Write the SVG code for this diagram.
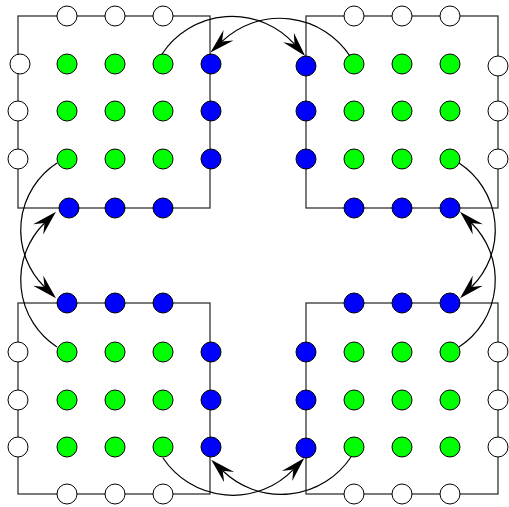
<svg xmlns="http://www.w3.org/2000/svg" width="509" height="507" viewBox="0 0 509 507">
<style>
.frame{fill:none;stroke:#333;stroke-width:1.3}
.w{fill:#fff;stroke:#000;stroke-width:1}
.g{fill:#00ff00;stroke:#000;stroke-width:1}
.b{fill:#0000ff;stroke:#000;stroke-width:1}
.c{fill:none;stroke:#000;stroke-width:1.2;marker-end:url(#ah)}
</style>
<defs>
<marker id="ah" markerUnits="userSpaceOnUse" markerWidth="26" markerHeight="16" refX="9" refY="8" orient="auto" overflow="visible">
<path d="M25,8 L0,0.8 L9,8 L0,15.2 Z" fill="#000"/>
</marker>
</defs>
<rect width="509" height="507" fill="#fff"/>
<g id="frames">
<rect class="frame" x="18" y="16" width="192" height="192"/>
<rect class="frame" x="306" y="16" width="192" height="192"/>
<rect class="frame" x="18" y="303" width="192" height="191"/>
<rect class="frame" x="306" y="303" width="192" height="191"/>
</g>
<g id="tl-nodes">
<g id="tl-w1"><circle class="w" cx="67" cy="16" r="10"/></g>
<g id="tl-w2"><circle class="w" cx="115" cy="16" r="10"/></g>
<g id="tl-w3"><circle class="w" cx="163" cy="16" r="10"/></g>
<g id="tl-w4"><circle class="w" cx="20" cy="64" r="10"/></g>
<g id="tl-w5"><circle class="w" cx="18" cy="111" r="10"/></g>
<g id="tl-w6"><circle class="w" cx="18" cy="159" r="10"/></g>
<g id="tl-g11"><circle class="g" cx="67" cy="64" r="10"/></g>
<g id="tl-g12"><circle class="g" cx="115" cy="64" r="10"/></g>
<g id="tl-g13"><circle class="g" cx="163" cy="64" r="10"/></g>
<g id="tl-g21"><circle class="g" cx="67" cy="111" r="10"/></g>
<g id="tl-g22"><circle class="g" cx="115" cy="111" r="10"/></g>
<g id="tl-g23"><circle class="g" cx="163" cy="111" r="10"/></g>
<g id="tl-g31"><circle class="g" cx="67" cy="159" r="10"/></g>
<g id="tl-g32"><circle class="g" cx="115" cy="159" r="10"/></g>
<g id="tl-g33"><circle class="g" cx="163" cy="159" r="10"/></g>
<g id="tl-b1"><circle class="b" cx="211" cy="64" r="10"/></g>
<g id="tl-b2"><circle class="b" cx="211" cy="111" r="10"/></g>
<g id="tl-b3"><circle class="b" cx="211" cy="159" r="10"/></g>
<g id="tl-b4"><circle class="b" cx="69" cy="208" r="10"/></g>
<g id="tl-b5"><circle class="b" cx="115" cy="208" r="10"/></g>
<g id="tl-b6"><circle class="b" cx="163" cy="208" r="10"/></g>
</g>
<g id="tr-nodes">
<g id="tr-w1"><circle class="w" cx="354" cy="16" r="10"/></g>
<g id="tr-w2"><circle class="w" cx="402" cy="16" r="10"/></g>
<g id="tr-w3"><circle class="w" cx="450" cy="16" r="10"/></g>
<g id="tr-w4"><circle class="w" cx="498" cy="66" r="10"/></g>
<g id="tr-w5"><circle class="w" cx="498" cy="111" r="10"/></g>
<g id="tr-w6"><circle class="w" cx="498" cy="159" r="10"/></g>
<g id="tr-g11"><circle class="g" cx="354" cy="64" r="10"/></g>
<g id="tr-g12"><circle class="g" cx="402" cy="64" r="10"/></g>
<g id="tr-g13"><circle class="g" cx="450" cy="64" r="10"/></g>
<g id="tr-g21"><circle class="g" cx="354" cy="111" r="10"/></g>
<g id="tr-g22"><circle class="g" cx="402" cy="111" r="10"/></g>
<g id="tr-g23"><circle class="g" cx="450" cy="111" r="10"/></g>
<g id="tr-g31"><circle class="g" cx="354" cy="159" r="10"/></g>
<g id="tr-g32"><circle class="g" cx="402" cy="159" r="10"/></g>
<g id="tr-g33"><circle class="g" cx="450" cy="159" r="10"/></g>
<g id="tr-b1"><circle class="b" cx="306" cy="66" r="10"/></g>
<g id="tr-b2"><circle class="b" cx="306" cy="111" r="10"/></g>
<g id="tr-b3"><circle class="b" cx="306" cy="159" r="10"/></g>
<g id="tr-b4"><circle class="b" cx="354" cy="208" r="10"/></g>
<g id="tr-b5"><circle class="b" cx="402" cy="208" r="10"/></g>
<g id="tr-b6"><circle class="b" cx="450" cy="208" r="10"/></g>
</g>
<g id="bl-nodes">
<g id="bl-w1"><circle class="w" cx="18" cy="352" r="10"/></g>
<g id="bl-w2"><circle class="w" cx="18" cy="400" r="10"/></g>
<g id="bl-w3"><circle class="w" cx="18" cy="447" r="10"/></g>
<g id="bl-w4"><circle class="w" cx="67" cy="494" r="10"/></g>
<g id="bl-w5"><circle class="w" cx="115" cy="494" r="10"/></g>
<g id="bl-w6"><circle class="w" cx="163" cy="494" r="10"/></g>
<g id="bl-g11"><circle class="g" cx="67" cy="352" r="10"/></g>
<g id="bl-g12"><circle class="g" cx="115" cy="352" r="10"/></g>
<g id="bl-g13"><circle class="g" cx="163" cy="352" r="10"/></g>
<g id="bl-g21"><circle class="g" cx="67" cy="400" r="10"/></g>
<g id="bl-g22"><circle class="g" cx="115" cy="400" r="10"/></g>
<g id="bl-g23"><circle class="g" cx="163" cy="400" r="10"/></g>
<g id="bl-g31"><circle class="g" cx="67" cy="447" r="10"/></g>
<g id="bl-g32"><circle class="g" cx="115" cy="447" r="10"/></g>
<g id="bl-g33"><circle class="g" cx="163" cy="447" r="10"/></g>
<g id="bl-b1"><circle class="b" cx="67" cy="303" r="10"/></g>
<g id="bl-b2"><circle class="b" cx="115" cy="303" r="10"/></g>
<g id="bl-b3"><circle class="b" cx="163" cy="303" r="10"/></g>
<g id="bl-b4"><circle class="b" cx="211" cy="352" r="10"/></g>
<g id="bl-b5"><circle class="b" cx="211" cy="400" r="10"/></g>
<g id="bl-b6"><circle class="b" cx="211" cy="447" r="10"/></g>
</g>
<g id="br-nodes">
<g id="br-w1"><circle class="w" cx="498" cy="352" r="10"/></g>
<g id="br-w2"><circle class="w" cx="498" cy="400" r="10"/></g>
<g id="br-w3"><circle class="w" cx="498" cy="447" r="10"/></g>
<g id="br-w4"><circle class="w" cx="354" cy="494" r="10"/></g>
<g id="br-w5"><circle class="w" cx="402" cy="494" r="10"/></g>
<g id="br-w6"><circle class="w" cx="450" cy="494" r="10"/></g>
<g id="br-g11"><circle class="g" cx="354" cy="352" r="10"/></g>
<g id="br-g12"><circle class="g" cx="402" cy="352" r="10"/></g>
<g id="br-g13"><circle class="g" cx="450" cy="352" r="10"/></g>
<g id="br-g21"><circle class="g" cx="354" cy="400" r="10"/></g>
<g id="br-g22"><circle class="g" cx="402" cy="400" r="10"/></g>
<g id="br-g23"><circle class="g" cx="450" cy="400" r="10"/></g>
<g id="br-g31"><circle class="g" cx="354" cy="447" r="10"/></g>
<g id="br-g32"><circle class="g" cx="402" cy="447" r="10"/></g>
<g id="br-g33"><circle class="g" cx="450" cy="447" r="10"/></g>
<g id="br-b1"><circle class="b" cx="354" cy="303" r="10"/></g>
<g id="br-b2"><circle class="b" cx="402" cy="303" r="10"/></g>
<g id="br-b3"><circle class="b" cx="450" cy="303" r="10"/></g>
<g id="br-b4"><circle class="b" cx="306" cy="352" r="10"/></g>
<g id="br-b5"><circle class="b" cx="306" cy="400" r="10"/></g>
<g id="br-b6"><circle class="b" cx="306" cy="448" r="10"/></g>
</g>
<g id="connectors">
<path class="c" d="M162,54 A84,84 0 0 1 294.5,44.2"/>
<path class="c" d="M350,56 A84,84 0 0 0 222,41.4"/>
<path class="c" d="M57,163 A80,80 0 0 0 44.6,287"/>
<path class="c" d="M57,347 A80,80 0 0 1 44.6,223"/>
<path class="c" d="M163,458 A84,84 0 0 0 293.3,469.6"/>
<path class="c" d="M351,457 A84,84 0 0 1 222.7,470.8"/>
<path class="c" d="M459,163 A80,80 0 0 1 471.4,287"/>
<path class="c" d="M459,347 A80,80 0 0 0 471.4,223"/>
</g>
</svg>
